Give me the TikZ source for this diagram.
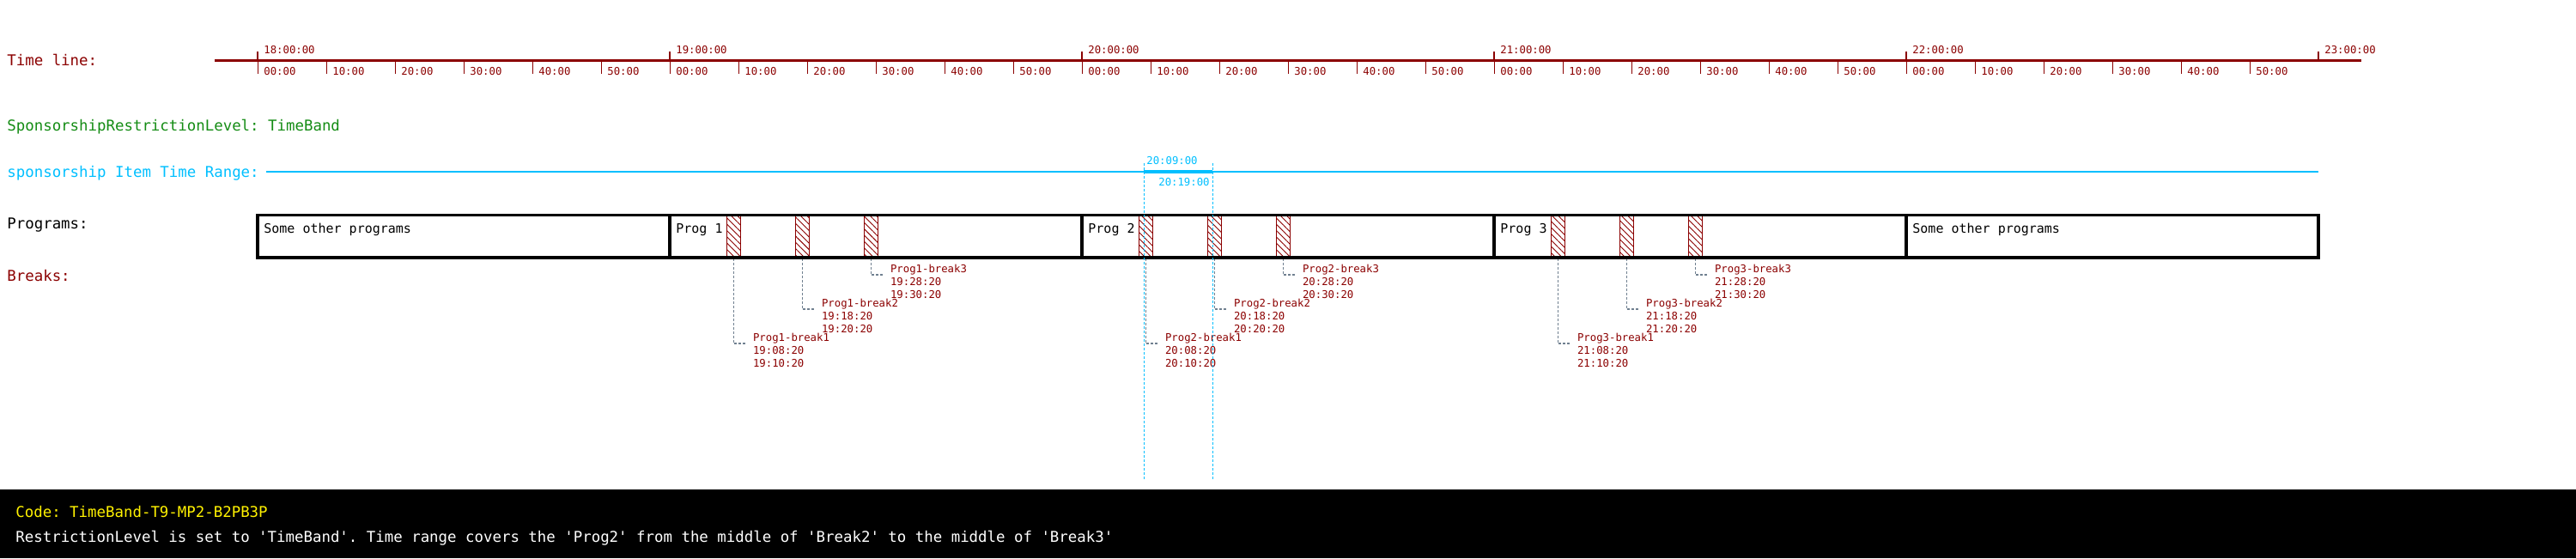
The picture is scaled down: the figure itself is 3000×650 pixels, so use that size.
\documentclass[tikz,border=0pt]{standalone}
\usepackage{fontspec}
\setmonofont{DejaVu Sans Mono}
\usetikzlibrary{patterns.meta}
\definecolor{tlred}{RGB}{139,0,0}
\definecolor{lvlgreen}{RGB}{20,140,20}
\definecolor{rangeblue}{RGB}{0,191,255}
\definecolor{leadgray}{RGB}{112,128,144}
\tikzset{
  biglabel/.style={font=\ttfamily\fontsize{8.7}{10}\selectfont, inner sep=0pt, anchor=base west},
  ticklabel/.style={font=\ttfamily\fontsize{6.15}{7.5}\selectfont, inner sep=0pt, anchor=base west, text=tlred},
  progname/.style={font=\ttfamily\fontsize{7.5}{9}\selectfont, inner sep=0pt, anchor=base west},
  breakbox/.style={draw=tlred, line width=0.5pt, minimum width=8pt, minimum height=25pt, inner sep=0pt,
    pattern={Lines[angle=-45,distance=2.6pt,line width=0.45pt]}, pattern color=tlred},
  breaktext/.style={font=\ttfamily\fontsize{6.15}{7.5}\selectfont, inner sep=0pt, anchor=north west, align=left, text=tlred},
  leader/.style={draw=leadgray, line width=0.55pt, dash pattern=on 1.5pt off 1pt},
  rangeline/.style={draw=rangeblue, line width=0.5pt, dash pattern=on 1.5pt off 1pt}
}
\begin{document}
\begin{tikzpicture}[x=0.5pt, y=-0.5pt]
  \useasboundingbox (0,0) rectangle (3000,650);

  \node[biglabel, text=tlred] (tllabel) at (8,76.7) {Time line:};
  \draw[tlred, line width=1.5pt] (250,70.3) -- (2750,70.3);
  \foreach \h [count=\i from 0] in {18,...,23} {
    \draw[tlred, line width=1.35pt] (300+480*\i,60) -- (300+480*\i,70.3);
    \node[ticklabel] (hr\h) at (307+480*\i,62.3) {\h:00:00};
  }
  \foreach \i in {0,...,4}
    \foreach \m [count=\j from 0] in {00,10,20,30,40,50} {
      \draw[tlred, line width=0.5pt] (300+480*\i+80*\j,70.3) -- (300+480*\i+80*\j,85.7);
      \node[ticklabel] (tick\i\j) at (307+480*\i+80*\j,87) {\m:00};
    }

  \node[biglabel, text=lvlgreen] (level) at (8,152.3) {SponsorshipRestrictionLevel: TimeBand};

  \node[biglabel, text=rangeblue] (rangelabel) at (8,206) {sponsorship Item Time Range:};
  \coordinate (rs) at (1332,200);
  \coordinate (re) at (1412,200);
  \draw[rangeblue, line width=0.6pt] (310,200) -- (2700,200);
  \draw[rangeblue, line width=2pt] (rs) -- (re);
  \node[ticklabel, text=rangeblue] (rstart) at (1335,191.7) {20:09:00};
  \node[ticklabel, text=rangeblue, anchor=base east] (rend) at (1409,216.7) {20:19:00};

  \node[biglabel] (proglabel) at (8,266) {Programs:};
  \node[biglabel, text=tlred] (breaklabel) at (8,327) {Breaks:};

  \foreach \p in {1,2,3}
    \foreach \b in {1,2,3} {
      \pgfmathsetmacro\cx{780+480*(\p-1)+74.67+80*(\b-1)}
      \pgfmathsetmacro\ly{400-40*(\b-1)}
      \pgfmathtruncatemacro\hh{18+\p}
      \pgfmathtruncatemacro\ms{8+10*(\b-1)}
      \pgfmathtruncatemacro\me{10+10*(\b-1)}
      \node[breakbox] (p\p b\b) at (\cx,275.3) {};
      \coordinate (p\p b\b k) at (\cx+14,\ly);
      \draw[leader] (p\p b\b.south) |- (p\p b\b k);
      \node[breaktext] (p\p b\b t) at (\cx+22,\ly-12) {Prog\p-break\b\\\hh:\ifnum\ms<10 0\fi\ms:20\\\hh:\me:20};
    }

  \foreach \name [count=\i from 0] in {Some other programs, Prog 1, Prog 2, Prog 3, Some other programs} {
    \draw[line width=1.6pt] (300+480*\i,250.7) rectangle (780+480*\i,300);
    \node[progname] (prog\i) at (307+480*\i,271) {\name};
  }

  \draw[rangeline] (1332,190) -- (1332,559);
  \draw[rangeline] (1412,190) -- (1412,559);

  \fill[black] (0,570) rectangle (3000,650);
  \node[biglabel, text=yellow] (code) at (18,602.3) {Code: TimeBand-T9-MP2-B2PB3P};
  \node[biglabel, text=white] (note) at (18,631.7) {RestrictionLevel is set to 'TimeBand'. Time range covers the 'Prog2' from the middle of 'Break2' to the middle of 'Break3'};
\end{tikzpicture}
\end{document}
